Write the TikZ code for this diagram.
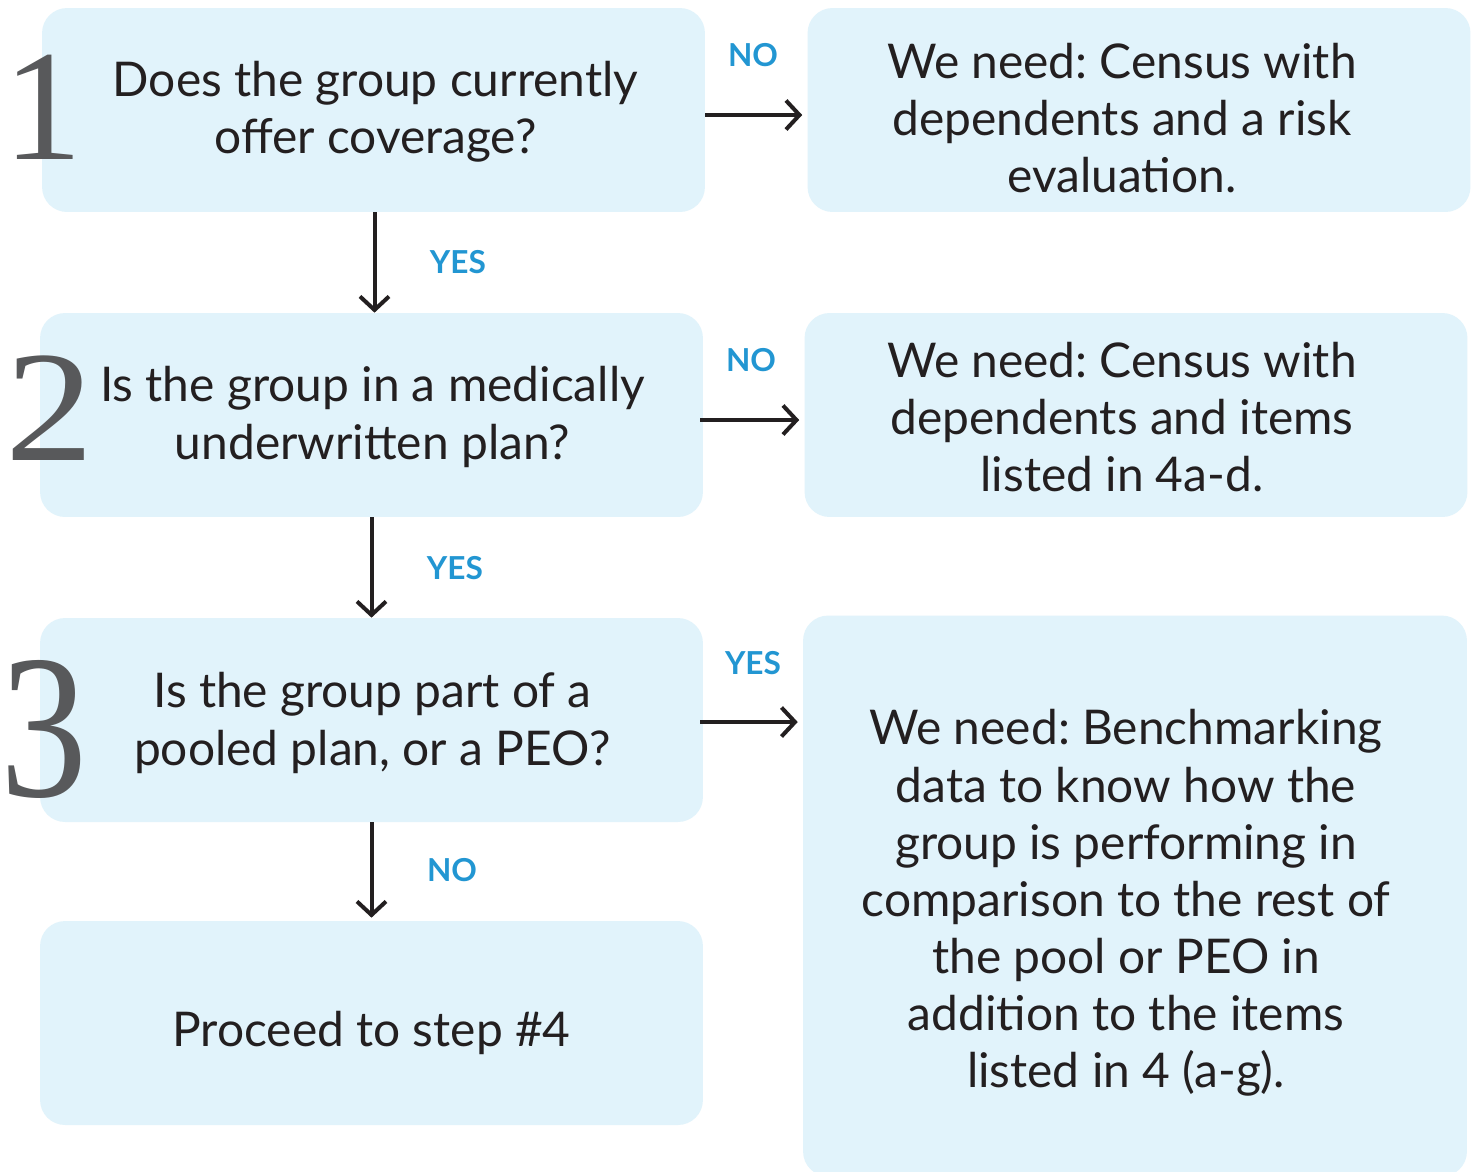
\documentclass[tikz,border=0pt]{standalone}
\usepackage{fontspec}
\setmainfont{Lato}
\newfontfamily\numfont{Liberation Serif}
\usetikzlibrary{arrows.meta}
\definecolor{boxfill}{HTML}{E1F3FB}
\definecolor{lblue}{HTML}{2296D2}
\definecolor{ink}{HTML}{231F20}
\definecolor{numgrey}{HTML}{58595B}
\tikzset{
  box/.style={fill=boxfill, rounded corners=0.5cm, minimum width=13.26cm, minimum height=4.08cm, inner sep=0pt},
  txt/.style={align=center, text=ink, font=\fontsize{27.25}{32.5}\selectfont\frenchspacing, inner sep=0pt},
  lbl/.style={text=lblue, font=\fontsize{18}{21}\selectfont\bfseries},
  arr/.style={draw=ink, line width=0.08cm, -{Straight Barb[length=0.27cm, width=0.58cm]}},
  bignum/.style={text=numgrey, font=\fontsize{90}{90}\selectfont\numfont, inner sep=0pt, anchor=north west},
}
\begin{document}
\begin{tikzpicture}[x=0.02cm, y=-0.02cm]
\useasboundingbox (0,0) rectangle (1476,1171);
\fill[white] (0,0) rectangle (1476,1171);
\node[box] (b1) at (373.5,110) {};
\node[box] (r1) at (1139,110) {};
\node[box] (b2) at (371.5,415) {};
\node[box] (r2) at (1136,415) {};
\node[box] (b3) at (371.5,720) {};
\node[box, minimum width=13.28cm, minimum height=11.22cm] (r3) at (1135,896) {};
\node[box] (b4) at (371.5,1023) {};

\node[txt] (t1) at ([shift={(2,2)}]b1.center) {Does the group currently\\offer coverage?};
\node[txt] (u1) at ([shift={(-17,8)}]r1.center) {We need: Census with\\dependents and a risk\\evaluation.};
\node[txt] (t2) at ([shift={(1,2)}]b2.center) {Is the group in a medically\\underwritten plan?};
\node[txt] (u2) at ([shift={(-14,2)}]r2.center) {We need: Census with\\dependents and items\\listed in 4a-d.};
\node[txt] (t3) at ([shift={(1,3)}]b3.center) {Is the group part of a\\pooled plan, or a PEO?};
\node[txt] (u3) at ([shift={(-9,7)}]r3.center) {We need: Benchmarking\\data to know how the\\group is performing in\\comparison to the rest of\\the pool or PEO in\\addition to the items\\listed in 4 (a-g).};
\node[txt] (t4) at ([shift={(0,10)}]b4.center) {Proceed to step \#4};

\node[bignum] (n1) at (3,55) {1};
\node[bignum, xscale=1.12] (n2) at (5,355) {2};
\node[bignum, xscale=1.1, yscale=1.3] (n3) at (0,660) {3};

\draw[arr] ([yshift=-0.1cm]b1.east) -- ([yshift=-0.1cm,xshift=-0.1cm]r1.west);
\draw[arr] ([yshift=-0.1cm,xshift=-0.06cm]b2.east) -- ([yshift=-0.1cm,xshift=-0.1cm]r2.west);
\draw[arr] ([yshift=-0.04cm,xshift=-0.06cm]b3.east) -- ([yshift=-0.04cm,xshift=-0.1cm]r3.west |- b3.center);
\draw[arr] ([xshift=0.02cm]b1.south) -- ([xshift=0.02cm]b1.south |- b2.north);
\draw[arr] (b2.south) -- (b3.north);
\draw[arr] (b3.south) -- ([yshift=0.06cm]b4.north);

\node[lbl] (l1) at (753,55) {NO};
\node[lbl] (l2) at (458,262) {YES};
\node[lbl] (l3) at (751,360) {NO};
\node[lbl] (l4) at (455,568) {YES};
\node[lbl] (l5) at (753,663) {YES};
\node[lbl] (l6) at (452,870) {NO};
\end{tikzpicture}
\end{document}
